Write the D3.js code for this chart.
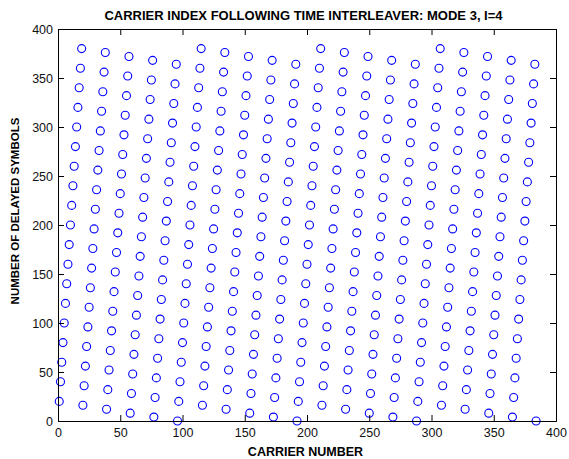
<!DOCTYPE html>
<html><head><meta charset="utf-8">
<script src="https://cdn.jsdelivr.net/npm/d3@7"></script>
<style>body{margin:0;background:#fff}svg{display:block}</style>
</head><body>
<svg id="c" width="569" height="459"></svg>
<script>
const title = "CARRIER INDEX FOLLOWING TIME INTERLEAVER: MODE 3, I=4";
const xLabel = "CARRIER NUMBER";
const yLabel = "NUMBER OF DELAYED SYMBOLS";
const xTicks = [0,50,100,150,200,250,300,350,400];
const yTicks = [0,50,100,150,200,250,300,350,400];
// carrier numbers 1..384
const carriers = [
1,2,3,4,5,6,7,8,9,10,11,12,13,14,15,16,17,18,19,20,21,22,23,24,25,26,27,28,29,30,31,32,
33,34,35,36,37,38,39,40,41,42,43,44,45,46,47,48,49,50,51,52,53,54,55,56,57,58,59,60,61,62,63,64,
65,66,67,68,69,70,71,72,73,74,75,76,77,78,79,80,81,82,83,84,85,86,87,88,89,90,91,92,93,94,95,96,
97,98,99,100,101,102,103,104,105,106,107,108,109,110,111,112,113,114,115,116,117,118,119,120,121,122,123,124,125,126,127,128,
129,130,131,132,133,134,135,136,137,138,139,140,141,142,143,144,145,146,147,148,149,150,151,152,153,154,155,156,157,158,159,160,
161,162,163,164,165,166,167,168,169,170,171,172,173,174,175,176,177,178,179,180,181,182,183,184,185,186,187,188,189,190,191,192,
193,194,195,196,197,198,199,200,201,202,203,204,205,206,207,208,209,210,211,212,213,214,215,216,217,218,219,220,221,222,223,224,
225,226,227,228,229,230,231,232,233,234,235,236,237,238,239,240,241,242,243,244,245,246,247,248,249,250,251,252,253,254,255,256,
257,258,259,260,261,262,263,264,265,266,267,268,269,270,271,272,273,274,275,276,277,278,279,280,281,282,283,284,285,286,287,288,
289,290,291,292,293,294,295,296,297,298,299,300,301,302,303,304,305,306,307,308,309,310,311,312,313,314,315,316,317,318,319,320,
321,322,323,324,325,326,327,328,329,330,331,332,333,334,335,336,337,338,339,340,341,342,343,344,345,346,347,348,349,350,351,352,
353,354,355,356,357,358,359,360,361,362,363,364,365,366,367,368,369,370,371,372,373,374,375,376,377,378,379,380,381,382,383,384];
// delayed symbols per carrier
const delays = [
20,40,60,80,100,120,140,160,180,200,220,240,260,280,300,320,340,360,380,
16,36,56,76,96,116,136,156,176,196,216,236,256,276,296,316,336,356,376,
12,32,52,72,92,112,132,152,172,192,212,232,252,272,292,312,332,352,372,
8,28,48,68,88,108,128,148,168,188,208,228,248,268,288,308,328,348,368,
4,24,44,64,84,104,124,144,164,184,204,224,244,264,284,304,324,344,364,
0,
20,40,60,80,100,120,140,160,180,200,220,240,260,280,300,320,340,360,380,
16,36,56,76,96,116,136,156,176,196,216,236,256,276,296,316,336,356,376,
12,32,52,72,92,112,132,152,172,192,212,232,252,272,292,312,332,352,372,
8,28,48,68,88,108,128,148,168,188,208,228,248,268,288,308,328,348,368,
4,24,44,64,84,104,124,144,164,184,204,224,244,264,284,304,324,344,364,
0,
20,40,60,80,100,120,140,160,180,200,220,240,260,280,300,320,340,360,380,
16,36,56,76,96,116,136,156,176,196,216,236,256,276,296,316,336,356,376,
12,32,52,72,92,112,132,152,172,192,212,232,252,272,292,312,332,352,372,
8,28,48,68,88,108,128,148,168,188,208,228,248,268,288,308,328,348,368,
4,24,44,64,84,104,124,144,164,184,204,224,244,264,284,304,324,344,364,
0,
20,40,60,80,100,120,140,160,180,200,220,240,260,280,300,320,340,360,380,
16,36,56,76,96,116,136,156,176,196,216,236,256,276,296,316,336,356,376,
12,32,52,72,92,112,132,152,172,192,212,232,252,272,292,312,332,352,372,
8,28,48,68,88,108,128,148,168,188,208,228,248,268,288,308,328,348,368,
4,24,44,64,84,104,124,144,164,184,204,224,244,264,284,304,324,344,364,
0];

const svg = d3.select("#c");
const L = 58, R = 556, T = 29, B = 421;
const x = d3.scaleLinear().domain([0,400]).range([L,R]);
const y = d3.scaleLinear().domain([0,400]).range([B,T]);
const font = "'Liberation Sans', Arial, sans-serif";
const tk = 6;

svg.append("rect").attr("x",L).attr("y",T).attr("width",R-L).attr("height",B-T)
  .attr("fill","#fff");

// points
svg.append("g").selectAll("circle").data(carriers).join("circle")
  .attr("cx",(d)=>x(d)).attr("cy",(d,i)=>y(delays[i])).attr("r",4)
  .attr("fill","none").attr("stroke","#0000ff").attr("stroke-width",1.1);

// axes
const styleAx = (g)=>g.selectAll("text").attr("font-family",font).attr("font-size",12.5).attr("fill","#111");
const gBottom = svg.append("g").attr("transform",`translate(0,${B})`)
  .call(d3.axisBottom(x).tickValues(xTicks).tickSize(-tk).tickPadding(7).tickFormat(d3.format("d")));
const gLeft = svg.append("g").attr("transform",`translate(${L},0)`)
  .call(d3.axisLeft(y).tickValues(yTicks).tickSize(-tk).tickPadding(5).tickFormat(d3.format("d")));
const gTop = svg.append("g").attr("transform",`translate(0,${T})`)
  .call(d3.axisTop(x).tickValues(xTicks).tickSize(-tk).tickFormat(""));
const gRight = svg.append("g").attr("transform",`translate(${R},0)`)
  .call(d3.axisRight(y).tickValues(yTicks).tickSize(-tk).tickFormat(""));
[gBottom,gLeft,gTop,gRight].forEach(g=>{
  styleAx(g);
  g.select(".domain").attr("stroke","#000").attr("stroke-width",1);
  g.selectAll(".tick line").attr("stroke","#000");
});

svg.append("text").attr("x",303.5).attr("y",19.5).attr("text-anchor","middle")
  .attr("font-family",font).attr("font-weight","bold").attr("font-size",13).text(title);
svg.append("text").attr("x",305.5).attr("y",456).attr("text-anchor","middle")
  .attr("font-family",font).attr("font-weight","bold").attr("font-size",12.5).text(xLabel);
svg.append("text").attr("transform",`translate(19,211) rotate(-90)`).attr("text-anchor","middle")
  .attr("font-family",font).attr("font-weight","bold").attr("font-size",11.5).text(yLabel);
</script>
</body></html>
